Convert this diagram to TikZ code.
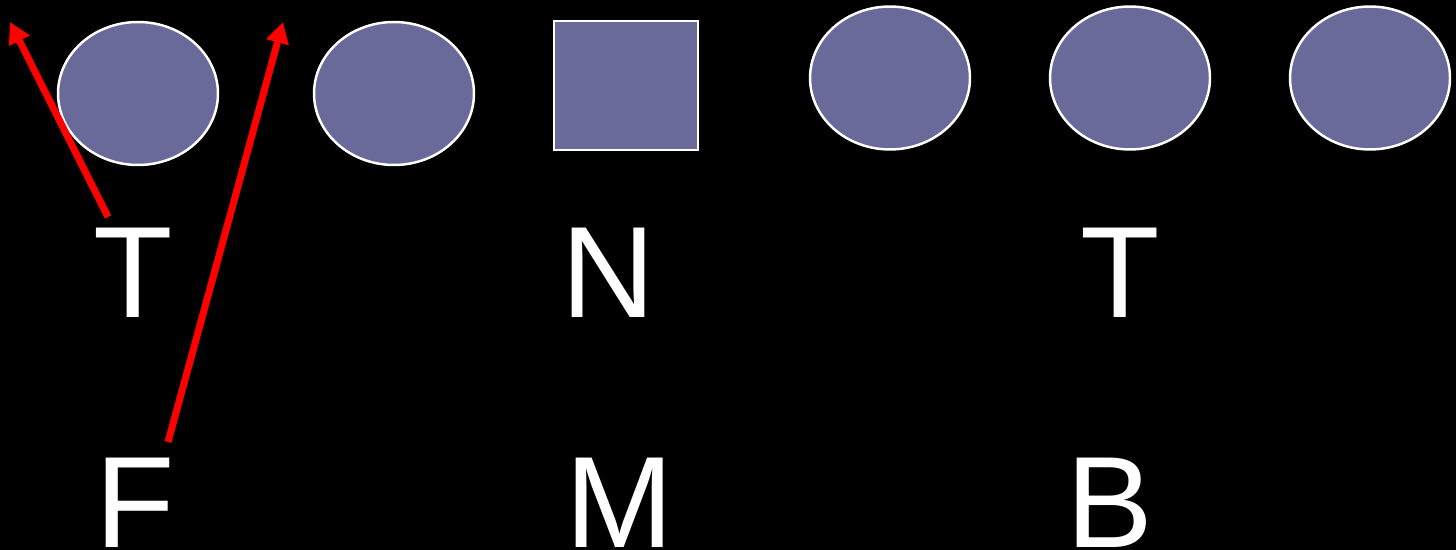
\documentclass[tikz,border=0pt]{standalone}
\usepackage{fontspec}
\setmainfont{Liberation Sans}
\usepackage{tikz}
\usetikzlibrary{positioning,arrows.meta,shapes.geometric}
\usepackage{xcolor}
\definecolor{slate}{RGB}{106,106,154}

\begin{document}
\begin{tikzpicture}[x=0.02cm,y=-0.02cm,
  disc/.style={ellipse,draw=white,line width=1.4pt,fill=slate,inner sep=0pt,minimum width=3.2cm,minimum height=2.86cm},
  box/.style={rectangle,draw=white,line width=1.4pt,fill=slate,inner sep=0pt,minimum width=2.88cm,minimum height=2.58cm},
  letter/.style={text=white,inner sep=0pt,anchor=base,font=\fontsize{74}{80}\selectfont},
  redarrow/.style={red,line width=4pt,-{Triangle[length=0.42cm,width=0.44cm]}}]
\fill[black] (0,0) rectangle (1456,550);
\useasboundingbox (0,0) rectangle (1456,550);
\node[disc] (d1) at (138,93.5) {};
\node[disc] (d2) at (394,93.5) {};
\node[box] (sq) at (626,85.5) {};
\node[disc] (d3) at (890,78) {};
\node[disc] (d4) at (1130,78) {};
\node[disc] (d5) at (1370,78) {};
\node[letter] (t1) at (133.5,317) {T};
\node[letter] (n) at (608,317) {N};
\node[letter] (t2) at (1120,317) {T};
\node[letter] (f) at (135,547) {F};
\node[letter] (m) at (620,547) {M};
\node[letter] (b) at (1110,547) {B};
\coordinate (tailA) at (108,217);
\coordinate (tipA) at (10,22);
\coordinate (tailB) at (168,442);
\coordinate (tipB) at (283,22);
\draw[redarrow] (tailA) -- (tipA);
\draw[redarrow] (tailB) -- (tipB);
\end{tikzpicture}
\end{document}
